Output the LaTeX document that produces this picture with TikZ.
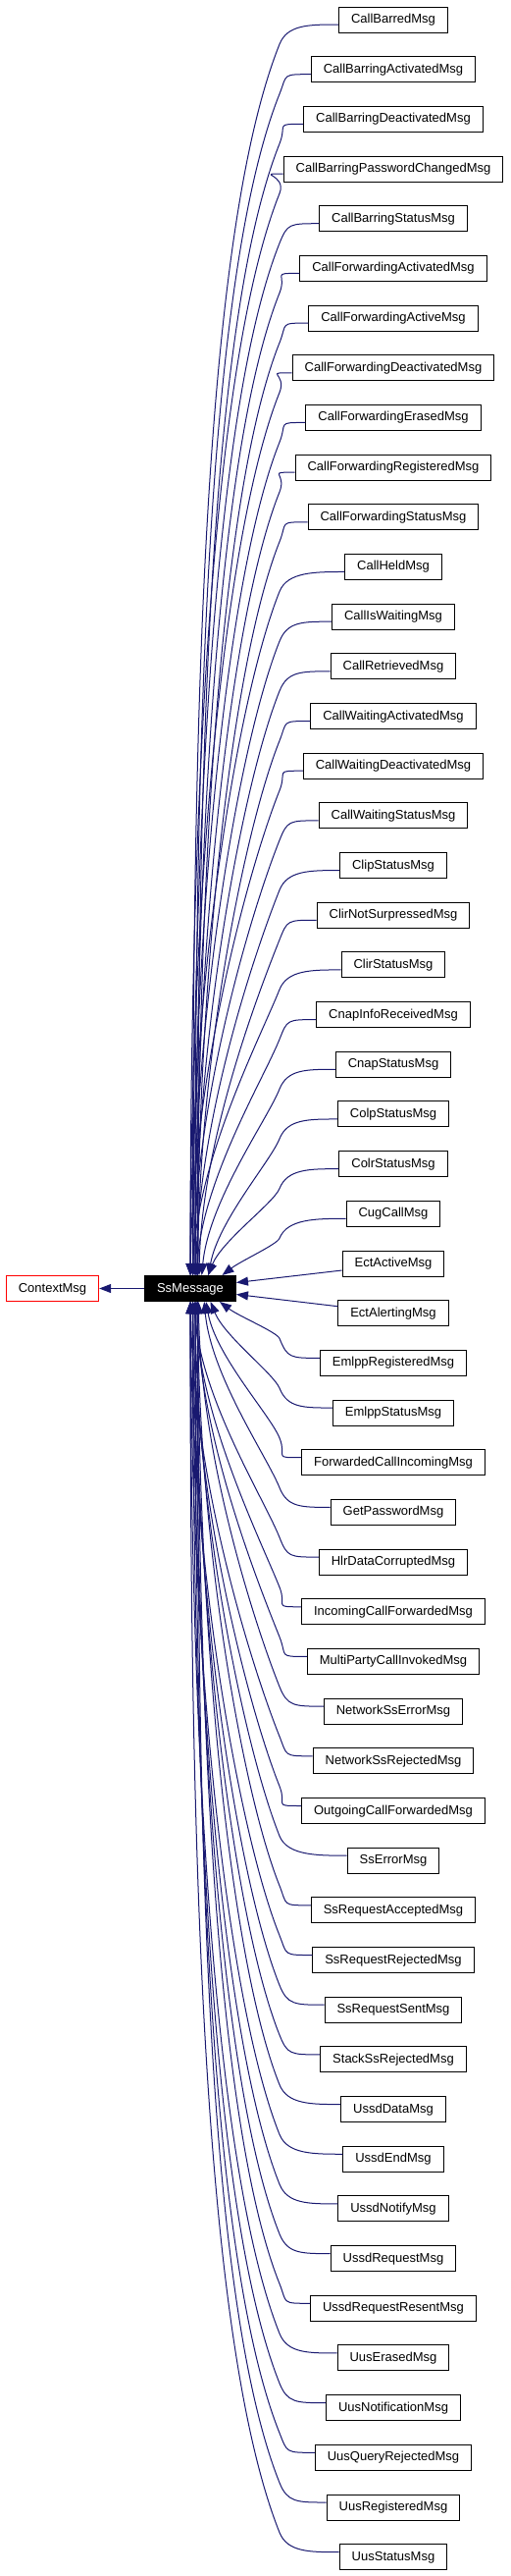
\documentclass[tikz,border=0pt]{standalone}
\usepackage{fontspec}
\setmainfont{Liberation Sans}
\usetikzlibrary{arrows.meta,calc}
\definecolor{edgecol}{HTML}{191970}
\begin{document}
\begin{tikzpicture}[x=1pt,y=-1pt,
  cls/.style={draw=black,line width=1pt,fill=white,font=\fontsize{13}{15}\selectfont,
    inner xsep=12.5pt,inner ysep=0pt,minimum height=26pt,text height=9.5pt,text depth=2.5pt},
  basecls/.style={cls,fill=black,text=white},
  extcls/.style={cls,draw=red},
  edge/.style={draw=edgecol,line width=1pt,-{Triangle[length=12pt,width=9pt]},fill=none}]
\useasboundingbox[fill=white] (0,0) rectangle (520,2624);
\node[basecls] (ss) at (194,1312.5) {SsMessage};
\node[extcls] (ctx) at (53.5,1312.5) {ContextMsg};
\draw[edge] (ss) -- (ctx);
\foreach \nm [count=\i] in {CallBarredMsg,CallBarringActivatedMsg,CallBarringDeactivatedMsg,CallBarringPasswordChangedMsg,CallBarringStatusMsg,CallForwardingActivatedMsg,CallForwardingActiveMsg,CallForwardingDeactivatedMsg,CallForwardingErasedMsg,CallForwardingRegisteredMsg,CallForwardingStatusMsg,CallHeldMsg,CallIsWaitingMsg,CallRetrievedMsg,CallWaitingActivatedMsg,CallWaitingDeactivatedMsg,CallWaitingStatusMsg,ClipStatusMsg,ClirNotSurpressedMsg,ClirStatusMsg,CnapInfoReceivedMsg,CnapStatusMsg,ColpStatusMsg,ColrStatusMsg,CugCallMsg,EctActiveMsg,EctAlertingMsg,EmlppRegisteredMsg,EmlppStatusMsg,ForwardedCallIncomingMsg,GetPasswordMsg,HlrDataCorruptedMsg,IncomingCallForwardedMsg,MultiPartyCallInvokedMsg,NetworkSsErrorMsg,NetworkSsRejectedMsg,OutgoingCallForwardedMsg,SsErrorMsg,SsRequestAcceptedMsg,SsRequestRejectedMsg,SsRequestSentMsg,StackSsRejectedMsg,UssdDataMsg,UssdEndMsg,UssdNotifyMsg,UssdRequestMsg,UssdRequestResentMsg,UusErasedMsg,UusNotificationMsg,UusQueryRejectedMsg,UusRegisteredMsg,UusStatusMsg}{
  \pgfmathsetmacro\yc{20+(\i-1)*50.68}
  \node[cls] (c\i) at (401,\yc) {\nm};
}
% children above
\foreach \i in {1,...,25}{
  \pgfmathsetmacro\yc{20+(\i-1)*50.68}
  \pgfmathsetmacro\d{26.5-\i}
  \pgfmathsetmacro\xo{mod(\i,4)*2.5+30*exp(-(\d-1.5)/2)}
  \pgfmathsetmacro\My{\yc+25}
  \pgfmathsetmacro\dy{1299.5-\My}
  \pgfmathsetmacro\k{0.165*\dy}
  \pgfmathsetmacro\cax{285-0.4*\k}
  \pgfmathsetmacro\cay{\My+\k}
  \pgfmathsetmacro\cbx{194+\xo+25*exp(-\dy/150)}
  \pgfmathsetmacro\cby{1299.5-0.4*\dy}
  \coordinate (m\i) at (285,\My);
  \draw[edge] ($(c\i.west)+(0,5)$) .. controls +(-30,0) and +(8,-20) .. (m\i)
     .. controls (\cax,\cay) and (\cbx,\cby) .. ($(ss.north)+(\xo,0)$);
}
% children below
\foreach \i in {28,...,52}{
  \pgfmathsetmacro\yc{20+(\i-1)*50.68}
  \pgfmathsetmacro\d{\i-26.5}
  \pgfmathsetmacro\xo{mod(\i,4)*2.5+30*exp(-(\d-1.5)/2)}
  \pgfmathsetmacro\My{\yc-25}
  \pgfmathsetmacro\dy{\My-1325.5}
  \pgfmathsetmacro\k{0.165*\dy}
  \pgfmathsetmacro\cax{285-0.4*\k}
  \pgfmathsetmacro\cay{\My-\k}
  \pgfmathsetmacro\cbx{194+\xo+25*exp(-\dy/150)}
  \pgfmathsetmacro\cby{1325.5+0.4*\dy}
  \coordinate (m\i) at (285,\My);
  \draw[edge] ($(c\i.west)+(0,-5)$) .. controls +(-30,0) and +(8,20) .. (m\i)
     .. controls (\cax,\cay) and (\cbx,\cby) .. ($(ss.south)+(\xo,0)$);
}
% children to the right
\draw[edge] ($(c26.west)+(0,7)$) -- ($(ss.east)+(0,-6)$);
\draw[edge] ($(c27.west)+(0,-7)$) -- ($(ss.east)+(0,6)$);
\end{tikzpicture}
\end{document}
